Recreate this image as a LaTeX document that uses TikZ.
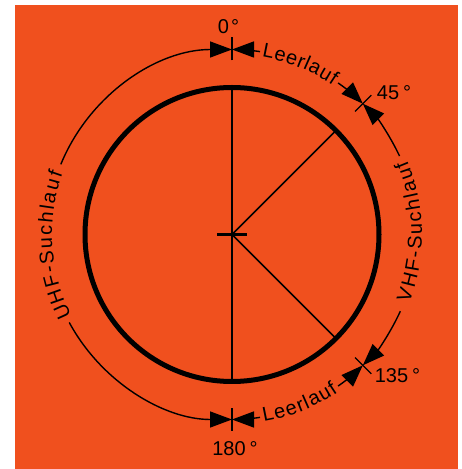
\documentclass[tikz,border=0pt]{standalone}
\usepackage{fontspec}
\setmainfont{Liberation Sans}
\usetikzlibrary{arrows.meta,decorations.text,calc}
\definecolor{bg}{RGB}{240,80,30}
\newcommand{\lblfont}{\fontsize{20}{23}\selectfont}
\begin{document}
\begin{tikzpicture}[x=1pt,y=1pt,
  arcline/.style={line width=1.4pt},
  arrowend/.style={-{Triangle[length=22pt,width=16pt]}},
  tickline/.style={line width=1.3pt},
  deg/.style={font=\lblfont, inner sep=0pt}]
\useasboundingbox (0,0) rectangle (462,469);
\fill[white] (0,0) rectangle (462,469);
\fill[bg] (15,0) rectangle (458,464);
\coordinate (C) at (232,234.5);
% main circle and radii
\draw[line width=5pt] (C) circle[radius=147pt];
\coordinate (top) at ($(C)+(90:147pt)$);
\coordinate (bot) at ($(C)+(-90:147pt)$);
\coordinate (r45) at ($(C)+(45:147pt)$);
\coordinate (r135) at ($(C)+(-45:147pt)$);
\draw[line width=1.5pt] (top) -- (bot);
\draw[line width=1.5pt] (C) -- (r45);
\draw[line width=1.5pt] (C) -- (r135);
\draw[line width=3pt] ($(C)+(-15pt,0pt)$) -- ($(C)+(15pt,0pt)$);
% ticks
\foreach \a/\n in {90/t0,45/t45,-45/t135,-90/t180}{
  \coordinate (\n i) at ($(C)+(\a:174pt)$);
  \coordinate (\n o) at ($(C)+(\a:197pt)$);
  \draw[tickline] (\n i) -- (\n o);
}
% arcs with arrows
\draw[arcline,arrowend] (C) ++(157.7:185pt) arc[start angle=157.7,end angle=90,radius=185pt];
\draw[arcline,arrowend] (C) ++(81.3:185pt) arc[start angle=81.3,end angle=90,radius=185pt];
\draw[arcline,arrowend] (C) ++(55:185pt) arc[start angle=55,end angle=45,radius=185pt];
\draw[arcline,arrowend] (C) ++(25.1:185pt) arc[start angle=25.1,end angle=45,radius=185pt];
\draw[arcline,arrowend] (C) ++(-24.5:185pt) arc[start angle=-24.5,end angle=-45,radius=185pt];
\draw[arcline,arrowend] (C) ++(-55:185pt) arc[start angle=-55,end angle=-45,radius=185pt];
\draw[arcline,arrowend] (C) ++(-81.3:185pt) arc[start angle=-81.3,end angle=-90,radius=185pt];
\draw[arcline,arrowend] (C) ++(208.4:185pt) arc[start angle=208.4,end angle=270,radius=185pt];
% texts along arcs
\path[decorate,decoration={text along path,text={|\lblfont|Leerlauf},text align={fit to path},raise=-5pt}]
  (C) ++(80.4:185pt) arc[start angle=80.4,end angle=56,radius=185pt];
\path[decorate,decoration={text along path,text={|\lblfont|UHF-Suchlauf},text align={fit to path},raise=-5pt}]
  (C) ++(206.8:185pt) arc[start angle=206.8,end angle=160.3,radius=185pt];
\path[decorate,decoration={text along path,text={|\lblfont|VHF-Suchlauf},text align={fit to path},raise=-5pt}]
  (C) ++(-21.2:185pt) arc[start angle=-21.2,end angle=23,radius=185pt];
\path[decorate,decoration={text along path,text={|\lblfont|Leerlauf},text align={fit to path},raise=-5pt}]
  (C) ++(-80.4:185pt) arc[start angle=-80.4,end angle=-56,radius=185pt];
% degree labels
\node[deg] (l0) at (228.5,442.5) {0\hspace{2pt}°};
\node[deg] (l45) at (394,376.5) {45\hspace{4pt}°};
\node[deg] (l135) at (397.5,93.5) {135\hspace{4pt}°};
\node[deg] (l180) at (235,20.5) {180\hspace{4pt}°};
\end{tikzpicture}
\end{document}
